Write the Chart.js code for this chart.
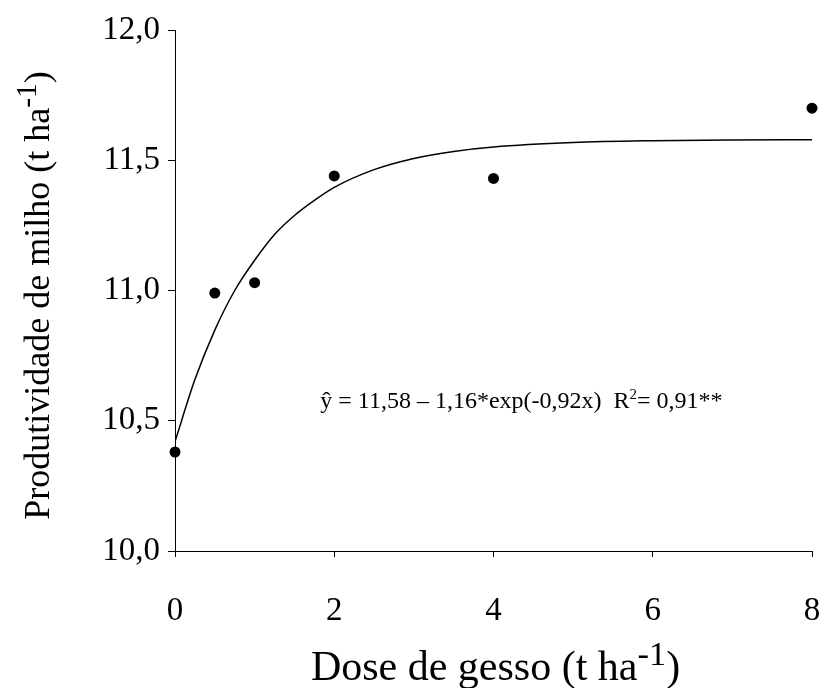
<!DOCTYPE html>
<html lang="pt">
<head>
    <meta charset="utf-8" />
    <title>Produtividade de milho x Dose de gesso</title>
    <style>
        html, body {
            margin: 0;
            padding: 0;
            background: #fff;
        }
        #wrap {
            width: 821px;
            height: 688px;
        }
    </style>
</head>
<body>
    <div id="wrap"><canvas id="chart" width="821" height="688"></canvas></div>

    <script src="https://cdn.jsdelivr.net/npm/chart.js@4.4.3/dist/chart.umd.min.js"></script>
    <script>
        // observed values (dose t/ha, yield t/ha)
        const doses = [0, 0.5, 1, 2, 4, 8];
        const yields = [10.38, 10.99, 11.03, 11.44, 11.43, 11.70];

        // fitted curve
        const curveX = [0, 0.25, 0.5, 0.75, 1, 1.25, 1.5, 1.75, 2, 2.5, 3, 3.5, 4, 5, 6, 7, 8];
        const curveY = [10.420, 10.658, 10.848, 11.000, 11.116, 11.215, 11.288, 11.346, 11.396,
            11.464, 11.507, 11.534, 11.551, 11.568, 11.575, 11.578, 11.579];

        const xTicks = [0, 2, 4, 6, 8];
        const yTicks = [10.0, 10.5, 11.0, 11.5, 12.0];

        const FONT = "'Liberation Serif', 'Times New Roman', serif";

        function drawSup(ctx, parts, x, y, size) {
            // parts: [text, isSup, scale, raise] ; x is the centre
            let total = 0;
            parts.forEach(p => {
                ctx.font = (p[1] ? size * p[2] : size) + 'px ' + FONT;
                total += ctx.measureText(p[0]).width;
            });
            let cx = x - total / 2;
            ctx.textAlign = 'left';
            ctx.textBaseline = 'alphabetic';
            parts.forEach(p => {
                ctx.font = (p[1] ? size * p[2] : size) + 'px ' + FONT;
                ctx.fillText(p[0], cx, p[1] ? y - size * p[3] : y);
                cx += ctx.measureText(p[0]).width;
            });
        }

        const textPlugin = {
            id: 'axisText',
            afterDraw(chart) {
                const ctx = chart.ctx;
                const { left, right, top, bottom } = chart.chartArea;
                ctx.save();
                ctx.fillStyle = '#000';

                // x axis title
                drawSup(ctx, [['Dose de gesso (t ha', false], ['-1', true, 0.82, 0.36], [')', false]],
                    (left + right) / 2 + 2, 680, 42);

                // y axis title
                ctx.save();
                ctx.translate(49, (top + bottom) / 2 + 5);
                ctx.rotate(-Math.PI / 2);
                drawSup(ctx, [['Produtividade de milho (t ha', false], ['-1', true, 0.82, 0.36], [')', false]],
                    0, 0, 36);
                ctx.restore();

                // equation
                const ex = chart.scales.x.getPixelForValue(4.35);
                const ey = chart.scales.y.getPixelForValue(10.55);
                drawSup(ctx, [['\u0177 = 11,58 \u2013 1,16*exp(-0,92x)  R', false], ['2', true, 0.62, 0.38], ['= 0,91**', false]],
                    ex, ey, 24);

                ctx.restore();
            }
        };

        new Chart(document.getElementById('chart'), {
            type: 'scatter',
            data: {
                datasets: [
                    {
                        label: 'ajuste',
                        data: curveX.map((x, i) => ({ x: x, y: curveY[i] })),
                        showLine: true,
                        borderColor: '#000',
                        borderWidth: 1.5,
                        pointRadius: 0,
                        cubicInterpolationMode: 'monotone',
                        fill: false
                    },
                    {
                        label: 'observado',
                        data: doses.map((x, i) => ({ x: x, y: yields[i] })),
                        backgroundColor: '#000',
                        borderColor: '#000',
                        borderWidth: 0,
                        pointRadius: 5.5,
                        clip: false
                    }
                ]
            },
            plugins: [textPlugin],
            options: {
                responsive: false,
                animation: false,
                layout: {
                    padding: { left: 0, right: 9, top: 30, bottom: 0 }
                },
                plugins: {
                    legend: { display: false },
                    tooltip: { enabled: false }
                },
                scales: {
                    x: {
                        type: 'linear',
                        min: 0,
                        max: 8,
                        afterBuildTicks: s => { s.ticks = xTicks.map(v => ({ value: v })); },
                        afterFit: s => {
                            s.height = 137;
                            s.paddingLeft = 0;
                            s.paddingRight = 0;
                        },
                        grid: {
                            display: true,
                            drawOnChartArea: false,
                            drawTicks: true,
                            tickLength: 6,
                            tickWidth: 1,
                            tickColor: '#000'
                        },
                        border: { display: true, color: '#000', width: 1 },
                        ticks: {
                            color: '#000',
                            padding: 35,
                            maxRotation: 0,
                            font: { family: FONT, size: 33 }
                        }
                    },
                    y: {
                        type: 'linear',
                        min: 10,
                        max: 12,
                        afterBuildTicks: s => { s.ticks = yTicks.map(v => ({ value: v })); },
                        afterFit: s => {
                            s.width = 175;
                            s.paddingTop = 0;
                            s.paddingBottom = 0;
                        },
                        grid: {
                            display: true,
                            drawOnChartArea: false,
                            drawTicks: true,
                            tickLength: 7,
                            tickWidth: 1,
                            tickColor: '#000'
                        },
                        border: { display: true, color: '#000', width: 1 },
                        ticks: {
                            color: '#000',
                            padding: 8,
                            font: { family: FONT, size: 33 },
                            callback: v => v.toFixed(1).replace('.', ',')
                        }
                    }
                }
            }
        });
    </script>
</body>
</html>
